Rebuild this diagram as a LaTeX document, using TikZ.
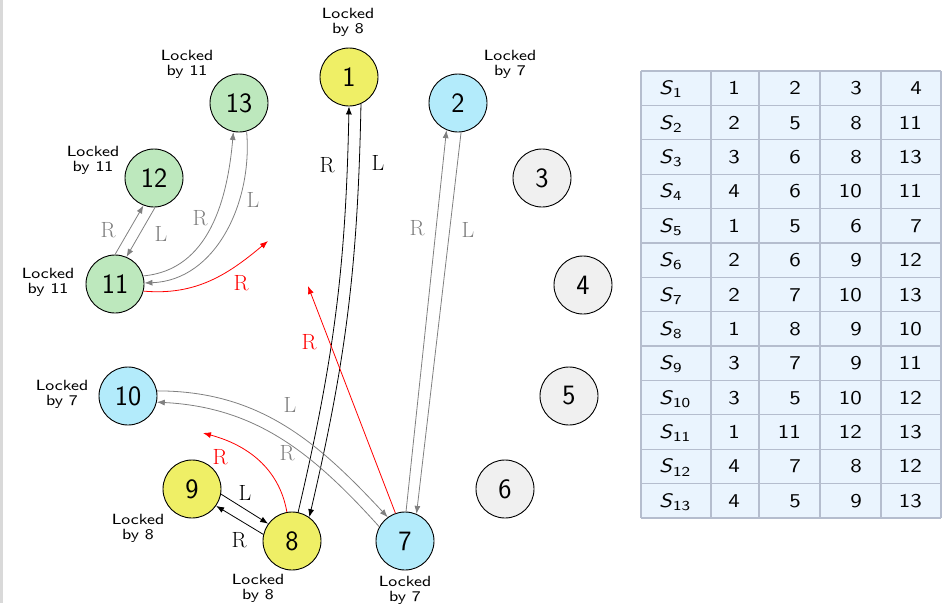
\documentclass[tikz,border=0pt]{standalone}
\usetikzlibrary{arrows.meta}
\definecolor{nyellow}{HTML}{EFEF66}
\definecolor{nblue}{HTML}{B3EBFB}
\definecolor{ngreen}{HTML}{BDE8BD}
\definecolor{ngray}{HTML}{F0F0F0}
\definecolor{tfill}{HTML}{EAF4FE}
\definecolor{tline}{HTML}{B5BDCE}
\definecolor{egray}{HTML}{808080}
\definecolor{barg}{HTML}{D9D9D9}
\newcommand\lockedby[1]{\scalebox{2.1}[1.85]{\fontsize{8}{8.1}\selectfont\begin{tabular}{@{}c@{}}Locked\\by #1\end{tabular}}}
\newcommand\tcell[1]{\scalebox{2.3}[1.95]{\fontsize{10}{10}\selectfont #1}}
\begin{document}
\begin{tikzpicture}[x=1pt,y=1pt,
  vtx/.style={circle,draw,line width=0.9pt,minimum size=58pt,inner sep=0pt,font=\fontsize{28}{28}\sffamily},
  lock/.style={font=\sffamily,inner sep=0pt},
  edg/.style={line width=0.8pt,-{Latex[length=8pt,width=6pt]}},
  elab/.style={font=\fontsize{22}{22}\selectfont,inner sep=0pt},
  gridline/.style={draw=tline,line width=1.2pt},
  ctext/.style={inner sep=0pt,font=\sffamily}]
\useasboundingbox (0,0) rectangle (948,-608);
\fill[barg] (0,0) rectangle (3,-603);

% vertices
\node[vtx,fill=nyellow] (n1) at (349,-77) {1};
\node[vtx,fill=nblue]   (n2) at (458,-103) {2};
\node[vtx,fill=ngray]   (n3) at (542,-178) {3};
\node[vtx,fill=ngray]   (n4) at (583,-285) {4};
\node[vtx,fill=ngray]   (n5) at (569,-396) {5};
\node[vtx,fill=ngray]   (n6) at (505,-489) {6};
\node[vtx,fill=nblue]   (n7) at (405,-541) {7};
\node[vtx,fill=nyellow] (n8) at (292,-541) {8};
\node[vtx,fill=nyellow] (n9) at (192,-489) {9};
\node[vtx,fill=nblue]   (n10) at (128,-396) {10};
\node[vtx,fill=ngreen]  (n11) at (115,-284) {11};
\node[vtx,fill=ngreen]  (n12) at (154,-178) {12};
\node[vtx,fill=ngreen]  (n13) at (239,-103) {13};

% lock labels
\node[lock] (k1) at (348,-23) {\lockedby{8}};
\node[lock] (k2) at (510,-65) {\lockedby{7}};
\node[lock] (k13) at (187,-65) {\lockedby{11}};
\node[lock] (k12) at (93,-161) {\lockedby{11}};
\node[lock] (k11) at (48,-283) {\lockedby{11}};
\node[lock] (k10) at (62,-395) {\lockedby{7}};
\node[lock] (k9) at (138,-529) {\lockedby{8}};
\node[lock] (k8) at (258,-589) {\lockedby{8}};
\node[lock] (k7) at (405,-591) {\lockedby{7}};

% free ends
\coordinate (r1) at (268,-241);
\coordinate (r2) at (308,-286);
\coordinate (r3) at (203,-433);

% black edges
\draw[edg] (n8.78) to[bend right=6] (n1.-90);
\draw[edg] (n1.-66) to[bend left=6] (n8.54);
\node[elab] (a1) at (327,-165) {R};
\node[elab] (a2) at (378,-163) {L};
\draw[edg] (n9.-10) -- (n8.144);
\draw[edg] (n8.167) -- (n9.-35);
\node[elab] (a3) at (245,-493) {L};
\node[elab] (a4) at (239,-540) {R};

% gray edges
\begin{scope}[egray]
\draw[edg] (n7.88) -- (n2.-113);
\draw[edg] (n2.-84) -- (n7.67);
\node[elab] (b1) at (417,-228) {R};
\node[elab] (b2) at (468,-230) {L};
\draw[edg] (n11.16) to[out=5,in=-95] (n13.-101);
\draw[edg] (n13.-75) to[out=-85,in=2] (n11.2);
\node[elab] (b3) at (200,-218) {R};
\node[elab] (b4) at (253,-200) {L};
\draw[edg] (n11.90) -- (n12.-111);
\draw[edg] (n12.-88) -- (n11.67);
\node[elab] (b5) at (108,-230) {R};
\node[elab] (b6) at (161,-234) {L};
\draw[edg] (n10.10) to[out=0,in=133] (n7.126);
\draw[edg] (n7.151) to[out=132,in=-3] (n10.-12);
\node[elab] (b7) at (290,-405) {L};
\node[elab] (b8) at (287,-453) {R};
\end{scope}

% red edges
\begin{scope}[red]
\draw[edg] (n11.-14) to[out=-5,in=220] (r1);
\node[elab] (c1) at (241,-283) {R};
\draw[edg] (n7.109) -- (r2);
\node[elab] (c2) at (309,-342) {R};
\draw[edg] (n8.100) to[out=100,in=-15] (r3);
\node[elab] (c3) at (220,-457) {R};
\end{scope}

% table
\node[fill=tfill,anchor=north west,minimum width=300pt,minimum height=447pt,inner sep=0pt,outer sep=0pt] (tbl) at (641,-71) {};
\foreach \x in {641,711,759,820,881,941}{
  \draw[gridline] (\x,-71) -- (\x,-518);
}
\foreach \s/\a/\b/\c/\d [count=\i] in {1/1/2/3/4,2/2/5/8/11,3/3/6/8/13,4/4/6/10/11,5/1/5/6/7,6/2/6/9/12,7/2/7/10/13,8/1/8/9/10,9/3/7/9/11,10/3/5/10/12,11/1/11/12/13,12/4/7/8/12,13/4/5/9/13}{
  \pgfmathsetmacro{\yt}{-71-(\i-1)*34.3846}
  \pgfmathsetmacro{\yb}{\yt-17.19-6.5}
  \draw[gridline] (641,\yt) -- (941,\yt);
  \node[ctext,anchor=base west] (u\i-0) at (659,\yb) {\tcell{\itshape S\/}\tcell{\raisebox{-1.6pt}{\fontsize{7}{7}\selectfont\s}}};
  \node[ctext,anchor=base east] (u\i-1) at (740,\yb) {\tcell{\a}};
  \node[ctext,anchor=base east] (u\i-2) at (801,\yb) {\tcell{\b}};
  \node[ctext,anchor=base east] (u\i-3) at (862,\yb) {\tcell{\c}};
  \node[ctext,anchor=base east] (u\i-4) at (922,\yb) {\tcell{\d}};
}
\draw[gridline] (641,-518) -- (941,-518);
\end{tikzpicture}
\end{document}
